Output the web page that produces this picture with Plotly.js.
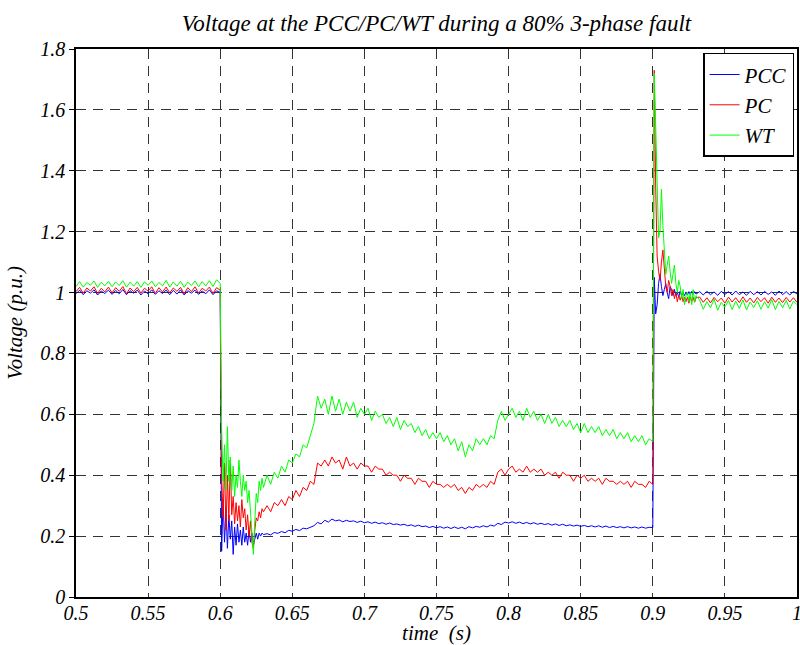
<!DOCTYPE html>
<html>
<head>
<meta charset="utf-8">
<script src="https://cdn.plot.ly/plotly-3.0.1.min.js"></script>
</head>
<body style="margin:0;background:#fff;font-family:'Liberation Serif';font-style:italic;">
<div id="chart"></div>
<script>
// time (s)
const time = [
 0.5,0.5025,0.505,0.5075,0.51,0.5125,0.515,0.5175,0.52,0.5225,0.525,0.5275,0.53,0.5325,0.535,0.5375,0.54,0.5425,0.545,0.5475,
 0.55,0.5525,0.555,0.5575,0.56,0.5625,0.565,0.5675,0.57,0.5725,0.575,0.5775,0.58,0.5825,0.585,0.5875,0.59,0.5925,0.595,0.5975,0.6,
 0.6005,0.601,0.602,0.603,0.604,0.605,0.606,0.607,0.608,0.609,0.61,0.611,0.612,0.613,0.614,0.615,0.616,0.617,0.618,0.619,0.62,
 0.621,0.622,0.623,0.624,0.625,0.626,0.627,0.628,0.629,0.63,
 0.6325,0.635,0.6375,0.64,0.6425,0.645,0.6475,0.65,0.6525,0.655,0.6575,0.66,0.6625,0.665,0.6675,0.67,0.6725,0.675,0.6775,0.68,
 0.6825,0.685,0.6875,0.69,0.6925,0.695,0.6975,0.7,0.7025,0.705,0.7075,0.71,0.7125,0.715,0.7175,0.72,0.7225,0.725,0.7275,0.73,
 0.7325,0.735,0.7375,0.74,0.7425,0.745,0.7475,0.75,0.7525,0.755,0.7575,0.76,0.7625,0.765,0.7675,0.77,0.7725,0.775,0.7775,0.78,
 0.7825,0.785,0.7875,0.79,0.7925,0.795,0.7975,0.8,0.8025,0.805,0.8075,0.81,0.8125,0.815,0.8175,0.82,0.8225,0.825,0.8275,0.83,
 0.8325,0.835,0.8375,0.84,0.8425,0.845,0.8475,0.85,0.8525,0.855,0.8575,0.86,0.8625,0.865,0.8675,0.87,0.8725,0.875,0.8775,0.88,
 0.8825,0.885,0.8875,0.89,0.8925,0.895,0.8975,0.9,
 0.9005,0.901,0.902,0.903,0.904,0.905,0.906,0.907,0.908,0.909,0.91,0.911,0.912,0.913,0.914,0.915,0.916,0.917,0.918,0.919,0.92,
 0.921,0.922,0.923,0.924,0.925,0.926,0.927,0.928,0.929,0.93,
 0.9325,0.935,0.9375,0.94,0.9425,0.945,0.9475,0.95,0.9525,0.955,0.9575,0.96,0.9625,0.965,0.9675,0.97,0.9725,0.975,0.9775,0.98,
 0.9825,0.985,0.9875,0.99,0.9925,0.995,0.9975,1.0
];

// PCC voltage (p.u.)
const pcc = [
 0.996,1.008,0.993,1.006,0.998,1.009,0.992,1.005,0.997,1.008,0.994,1.007,0.996,1.010,0.993,1.006,0.998,1.008,0.992,1.005,
 0.996,1.009,0.994,1.006,0.997,1.008,0.993,1.007,0.995,1.009,0.992,1.006,0.998,1.008,0.994,1.005,0.996,1.009,0.993,1.006,1.000,
 0.30,0.15,0.32,0.18,0.29,0.16,0.27,0.19,0.25,0.14,0.23,0.17,0.24,0.18,0.22,0.17,0.23,0.18,0.21,0.17,0.22,
 0.18,0.21,0.17,0.19,0.21,0.19,0.21,0.20,0.21,0.205,
 0.208,0.204,0.212,0.209, 0.215,0.211,0.219,0.216, 0.222,0.218,0.226,0.224, 0.230,0.234,0.245,0.240, 0.252,0.246,0.256,0.250,
 0.253,0.247,0.252,0.248, 0.250,0.245,0.249,0.244, 0.247,0.242,0.246,0.241, 0.244,0.239,0.243,0.238, 0.240,0.236,0.239,0.234,
 0.237,0.232,0.236,0.231, 0.233,0.228,0.232,0.227, 0.231,0.226,0.230,0.225, 0.230,0.225,0.229,0.224, 0.231,0.227,0.232,0.229,
 0.234,0.230,0.236,0.233, 0.242,0.238,0.246,0.243, 0.247,0.242,0.246,0.241, 0.245,0.240,0.244,0.239, 0.242,0.238,0.241,0.236,
 0.240,0.235,0.239,0.234, 0.237,0.233,0.236,0.232, 0.235,0.231,0.234,0.230, 0.234,0.229,0.233,0.228, 0.232,0.228,0.231,0.227,
 0.231,0.227,0.230,0.226, 0.230,0.226,0.229,0.228,
 0.60,1.05,0.93,0.96,1.03,1.06,1.02,0.99,1.01,1.03,1.00,0.98,1.02,1.01,0.99,1.01,0.99,1.00,0.985,1.005,0.99,
 1.00,0.99,1.002,0.992,1.003,0.993,1.004,0.994,1.003,0.995,
 1.003,0.992,1.004,0.993,1.002,0.991,1.004,0.994,1.003,0.992,1.005,0.993,1.002,0.991,1.004,0.993,1.003,0.992,1.004,0.994,
 1.002,0.991,1.005,0.993,1.003,0.992,1.004,0.995
];

// PC voltage (p.u.)
const pc = [
 1.003,1.017,0.998,1.015,1.005,1.019,0.997,1.014,1.002,1.018,0.999,1.016,1.004,1.020,0.996,1.015,1.003,1.017,0.998,1.014,
 1.005,1.019,0.997,1.016,1.002,1.018,0.999,1.015,1.004,1.017,0.996,1.016,1.003,1.019,0.998,1.014,1.005,1.018,0.997,1.016,1.008,
 0.62,0.40,0.26,0.44,0.22,0.40,0.25,0.45,0.27,0.33,0.24,0.31,0.25,0.30,0.23,0.32,0.26,0.29,0.22,0.27,0.20,
 0.25,0.18,0.16,0.22,0.26,0.25,0.28,0.26,0.29,0.28,
 0.30,0.28,0.31,0.30, 0.32,0.30,0.33,0.32, 0.35,0.33,0.36,0.35, 0.38,0.37,0.44,0.43, 0.45,0.43,0.46,0.44,
 0.45,0.42,0.46,0.43, 0.44,0.42,0.44,0.43, 0.43,0.41,0.43,0.42, 0.42,0.40,0.41,0.40, 0.40,0.38,0.40,0.39,
 0.39,0.37,0.39,0.38, 0.38,0.36,0.38,0.37, 0.37,0.36,0.37,0.36, 0.37,0.35,0.36,0.34, 0.36,0.35,0.37,0.36,
 0.37,0.36,0.38,0.37, 0.41,0.42,0.40,0.42, 0.43,0.41,0.42,0.41, 0.43,0.41,0.42,0.41, 0.42,0.40,0.41,0.40,
 0.41,0.39,0.41,0.40, 0.40,0.38,0.40,0.39, 0.40,0.38,0.39,0.38, 0.39,0.37,0.39,0.38, 0.38,0.37,0.38,0.37,
 0.38,0.36,0.38,0.37, 0.37,0.36,0.38,0.37,
 1.20,1.73,1.35,1.12,1.07,1.04,1.10,1.14,1.08,1.02,1.00,1.04,1.02,0.99,1.01,0.98,1.00,0.97,0.99,0.975,0.99,
 0.97,0.985,0.97,0.985,0.965,0.985,0.97,0.985,0.968,0.983,
 0.985,0.968,0.983,0.966,0.984,0.970,0.982,0.965,0.985,0.969,0.983,0.967,0.986,0.968,0.982,0.966,0.984,0.970,0.983,0.965,
 0.985,0.968,0.982,0.967,0.984,0.969,0.983,0.968
];

// WT voltage (p.u.)
const wt = [
 1.020,1.036,1.018,1.033,1.024,1.038,1.017,1.034,1.022,1.037,1.019,1.035,1.023,1.039,1.018,1.034,1.021,1.036,1.017,1.035,
 1.024,1.038,1.019,1.033,1.022,1.040,1.018,1.035,1.021,1.037,1.017,1.034,1.023,1.038,1.019,1.036,1.022,1.039,1.020,1.042,1.030,
 0.83,0.55,0.38,0.50,0.35,0.56,0.38,0.46,0.35,0.43,0.33,0.40,0.36,0.45,0.38,0.33,0.40,0.35,0.38,0.31,0.35,
 0.28,0.23,0.14,0.25,0.34,0.31,0.38,0.35,0.39,0.36,
 0.40,0.37,0.41,0.39, 0.43,0.41,0.45,0.44, 0.47,0.46,0.50,0.49, 0.53,0.57,0.66,0.62, 0.65,0.60,0.66,0.61,
 0.65,0.60,0.64,0.61, 0.64,0.59,0.62,0.60, 0.62,0.58,0.61,0.59, 0.60,0.57,0.59,0.56, 0.59,0.55,0.58,0.56,
 0.57,0.54,0.56,0.53, 0.55,0.52,0.54,0.52, 0.54,0.51,0.53,0.50, 0.52,0.48,0.51,0.46, 0.50,0.48,0.52,0.50,
 0.52,0.50,0.53,0.52, 0.58,0.61,0.58,0.60, 0.62,0.59,0.61,0.58, 0.62,0.59,0.61,0.58, 0.60,0.57,0.60,0.57,
 0.59,0.56,0.58,0.56, 0.58,0.55,0.57,0.54, 0.57,0.54,0.56,0.54, 0.56,0.53,0.55,0.53, 0.55,0.52,0.54,0.52,
 0.54,0.51,0.53,0.51, 0.53,0.50,0.52,0.51,
 1.10,1.72,1.55,1.30,1.18,1.20,1.34,1.22,1.12,1.06,1.09,1.12,1.07,1.03,1.06,1.09,1.03,1.00,1.04,1.02,0.98,
 1.01,0.96,0.99,1.00,0.97,1.00,0.96,1.01,0.97,0.99,
 0.975,0.945,0.970,0.950,0.978,0.942,0.968,0.952,0.974,0.944,0.972,0.948,0.976,0.943,0.969,0.951,0.973,0.945,0.970,0.949,
 0.977,0.944,0.971,0.950,0.974,0.946,0.972,0.960
];

const xTickVals = [0.5,0.55,0.6,0.65,0.7,0.75,0.8,0.85,0.9,0.95,1];
const xTickText = ['0.5','0.55','0.6','0.65','0.7','0.75','0.8','0.85','0.9','0.95','1'];
const yTickVals = [0,0.2,0.4,0.6,0.8,1,1.2,1.4,1.6,1.8];
const yTickText = ['0','0.2','0.4','0.6','0.8','1','1.2','1.4','1.6','1.8'];

const traces = [
  {x: time, y: pcc, name: 'PCC', type: 'scatter', mode: 'lines', line: {color: '#0000ff', width: 1}},
  {x: time, y: pc,  name: 'PC',  type: 'scatter', mode: 'lines', line: {color: '#ff0000', width: 1}},
  {x: time, y: wt,  name: 'WT',  type: 'scatter', mode: 'lines', line: {color: '#00ff00', width: 1}}
];

function fnt(size) {
  return {family: 'Liberation Serif', size: size, style: 'italic', color: '#000'};
}

const layout = {
  width: 800, height: 645,
  margin: {l: 76, r: 3, t: 49, b: 48},
  paper_bgcolor: '#fff', plot_bgcolor: '#fff',
  showlegend: true,
  title: {text: 'Voltage at the PCC/PC/WT during a 80% 3-phase fault', font: fnt(23),
          xref: 'paper', x: 0.5, xanchor: 'center', yref: 'container', y: 0.965, yanchor: 'middle'},
  xaxis: {
    range: [0.5, 1], tickmode: 'array', tickvals: xTickVals, ticktext: xTickText,
    showgrid: true, gridcolor: '#333333', gridwidth: 1, griddash: '10px,7px',
    showline: true, linecolor: '#000', linewidth: 1.5, mirror: true, zeroline: false,
    ticks: '', ticklabeloverflow: 'allow', ticklabelstandoff: -3, tickfont: fnt(20),
    title: {text: 'time  (s)', standoff: 10, font: fnt(21)}
  },
  yaxis: {
    range: [0, 1.8], tickmode: 'array', tickvals: yTickVals, ticktext: yTickText,
    showgrid: true, gridcolor: '#333333', gridwidth: 1, griddash: '10px,7px',
    showline: true, linecolor: '#000', linewidth: 1.5, mirror: true, zeroline: false,
    ticks: 'outside', ticklen: 5, tickcolor: '#000', tickfont: fnt(20),
    title: {text: 'Voltage (p.u.)', standoff: 12, font: fnt(21)}
  },
  legend: {x: 0.996, y: 0.993, xanchor: 'right', yanchor: 'top', bgcolor: '#fff',
           bordercolor: '#000', borderwidth: 1.5, tracegroupgap: 0, font: fnt(21)}
};

Plotly.newPlot('chart', traces, layout, {displayModeBar: false});
</script>
</body>
</html>
